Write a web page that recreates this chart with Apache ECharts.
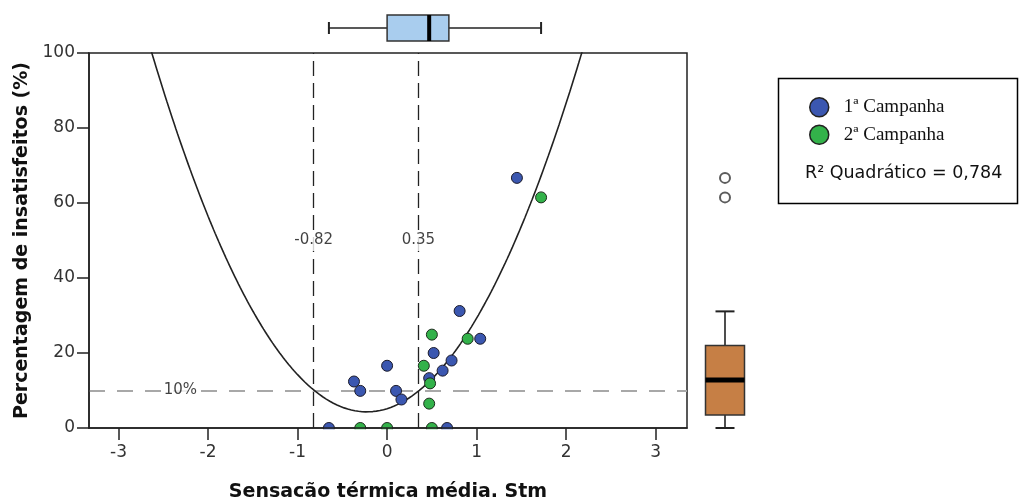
<!DOCTYPE html>
<html><head><meta charset="utf-8">
<script src="https://cdn.jsdelivr.net/npm/echarts@6/dist/echarts.min.js"></script>
<style>html,body{margin:0;padding:0;background:#fff}#c{width:1020px;height:504px}</style>
</head><body><div id="c"></div>
<script>
// ---- data ----
const seriesNames = ['1ª Campanha', '2ª Campanha'];
const campanha1 = [[1.45,66.7],[0.81,31.2],[1.04,23.8],[0.52,20.0],[0.00,16.6],[0.72,18.0],[0.62,15.3],[0.47,13.3],[-0.37,12.4],[-0.30,9.9],[0.10,9.9],[0.16,7.6],[-0.65,0],[0.67,0]];
const campanha2 = [[1.72,61.5],[0.50,24.9],[0.90,23.8],[0.41,16.6],[0.48,11.9],[0.47,6.5],[-0.30,0],[0.00,0],[0.50,0]];
const fitCoef = [5.16, 7.54, 16.6];          // quadratic fit y = c0 + c1 x + c2 x^2
const refLinesX = [-0.82, 0.35];
const refLabelsX = ['-0.82', '0.35'];
const refLineY = 10;
const refLabelY = '10%';
const xTicks = [-3, -2, -1, 0, 1, 2, 3];
const yTicks = [0, 20, 40, 60, 80, 100];
const xBox = [-0.65, 0.00, 0.47, 0.69, 1.72];   // min, Q1, median, Q3, max
const yBox = [0, 3.5, 12.8, 22.0, 31.1];
const yOutliers = [66.7, 61.5];
const r2Text = 'R² Quadrático = 0,784';
const xTitle = 'Sensacão térmica média. Stm';
const yTitle = 'Percentagem de insatisfeitos (%)';

// ---- fit curve samples ----
const curve = [];
for (let x = -2.8; x <= 2.36; x += 0.02) {
  curve.push([x, fitCoef[0] + fitCoef[1] * x + fitCoef[2] * x * x]);
}

const XMIN = -3.33, XMAX = 3.35;
const tickFont = {fontFamily: 'DejaVu Sans', fontSize: 17, color: '#333'};
const titleFont = {fontFamily: 'DejaVu Sans', fontWeight: 'bold', fontSize: 19, color: '#111'};

const chart = echarts.init(document.getElementById('c'), null, {renderer: 'canvas'});
chart.setOption({
  animation: false,
  backgroundColor: '#fff',
  grid: [
    {left: 89, top: 53, width: 598, height: 375, show: true, borderColor: '#222', borderWidth: 1.5, backgroundColor: '#fff', outerBoundsMode: 'none', containLabel: false},
    {left: 89, top: 10, width: 598, height: 36, outerBoundsMode: 'none'},
    {left: 700, top: 53, width: 50, height: 375, outerBoundsMode: 'none'}
  ],
  xAxis: [
    {gridIndex: 0, type: 'value', min: XMIN, max: XMAX, z: 20,
     axisLine: {show: true, onZero: false, lineStyle: {color: '#222', width: 1.5}},
     axisTick: {show: true, length: 12, customValues: xTicks, lineStyle: {color: '#222', width: 1.5}},
     axisLabel: {show: true, customValues: xTicks, margin: 16, ...tickFont},
     splitLine: {show: false},
     name: xTitle, nameLocation: 'middle', nameGap: 55, nameTextStyle: titleFont},
    {gridIndex: 1, type: 'value', min: XMIN, max: XMAX, show: false},
    {gridIndex: 2, type: 'value', min: 0, max: 1, show: false}
  ],
  yAxis: [
    {gridIndex: 0, type: 'value', min: 0, max: 100, interval: 20, z: 20,
     axisLine: {show: true, onZero: false, lineStyle: {color: '#222', width: 1.5}},
     axisTick: {show: true, length: 12, lineStyle: {color: '#222', width: 1.5}},
     axisLabel: {show: true, margin: 14, ...tickFont},
     splitLine: {show: false},
     name: yTitle, nameLocation: 'middle', nameGap: 55, nameTextStyle: titleFont},
    {gridIndex: 1, type: 'value', min: 0, max: 1, show: false},
    {gridIndex: 2, type: 'value', min: 0, max: 100, show: false}
  ],
  legend: {
    data: seriesNames, orient: 'vertical', left: 804, top: 92,
    itemWidth: 19, itemHeight: 19, itemGap: 7, icon: 'circle',
    itemStyle: {borderColor: '#222', borderWidth: 1.5},
    textStyle: {fontFamily: 'Liberation Serif', fontSize: 19, color: '#111', padding: [0, 0, 0, 10]},
    selectedMode: false
  },
  series: [
    {type: 'line', name: 'fit', xAxisIndex: 0, yAxisIndex: 0, data: curve, showSymbol: false,
     clip: true, z: 2, lineStyle: {color: '#222', width: 1.6}, silent: true,
     markLine: {silent: true, z: 1, symbol: 'none', animation: false, label: {show: false},
       data: [
         {xAxis: refLinesX[0], lineStyle: {color: '#222', width: 1.3, type: [15, 7]}},
         {xAxis: refLinesX[1], lineStyle: {color: '#222', width: 1.3, type: [15, 7]}},
         {yAxis: refLineY, lineStyle: {color: '#a8a8a8', width: 2, type: [16, 12]}}
       ]}},
    {type: 'scatter', name: 'labels', xAxisIndex: 0, yAxisIndex: 0, z: 3, symbolSize: 0, silent: true,
     data: [[refLinesX[0], 50, refLabelsX[0]], [refLinesX[1], 50, refLabelsX[1]], [-2.31, refLineY, refLabelY]],
     label: {show: true, position: 'inside', formatter: p => p.value[2],
       fontFamily: 'DejaVu Sans', fontSize: 15, color: '#111', backgroundColor: '#fff', padding: [3, 2]},
     labelLayout: {hideOverlap: false}},
    {type: 'scatter', name: seriesNames[0], xAxisIndex: 0, yAxisIndex: 0, z: 4, data: campanha1,
     symbolSize: 11, itemStyle: {color: '#3B57B0', borderColor: '#1c1c2c', borderWidth: 1, opacity: 1}},
    {type: 'scatter', name: seriesNames[1], xAxisIndex: 0, yAxisIndex: 0, z: 4, data: campanha2,
     symbolSize: 11, itemStyle: {color: '#33B24A', borderColor: '#1c2c1c', borderWidth: 1, opacity: 1}},
    {type: 'custom', name: 'xbox', xAxisIndex: 1, yAxisIndex: 1, data: [xBox], silent: true,
     renderItem: (params, api) => {
       const v = [0,1,2,3,4].map(i => api.value(i));
       const px = v.map(val => api.coord([val, 0.5])[0]);
       const cy = api.coord([0, 0.5])[1];
       const hb = 13, hc = 6;
       const ls = {stroke: '#222', lineWidth: 1.6};
       return {type: 'group', children: [
         {type: 'line', shape: {x1: px[0], y1: cy, x2: px[1], y2: cy}, style: ls},
         {type: 'line', shape: {x1: px[3], y1: cy, x2: px[4], y2: cy}, style: ls},
         {type: 'line', shape: {x1: px[0], y1: cy - hc, x2: px[0], y2: cy + hc}, style: {stroke: '#222', lineWidth: 2}},
         {type: 'line', shape: {x1: px[4], y1: cy - hc, x2: px[4], y2: cy + hc}, style: {stroke: '#222', lineWidth: 2}},
         {type: 'rect', shape: {x: px[1], y: cy - hb, width: px[3] - px[1], height: 2 * hb}, style: {fill: '#A9CDEE', stroke: '#333', lineWidth: 1.5}},
         {type: 'line', shape: {x1: px[2], y1: cy - hb, x2: px[2], y2: cy + hb}, style: {stroke: '#000', lineWidth: 4}}
       ]};
     }},
    {type: 'custom', name: 'ybox', xAxisIndex: 2, yAxisIndex: 2, data: [yBox], silent: true,
     renderItem: (params, api) => {
       const v = [0,1,2,3,4].map(i => api.value(i));
       const py = v.map(val => api.coord([0.5, val])[1]);
       const cx = api.coord([0.5, 0])[0];
       const hb = 19.5, hc = 9.5;
       const ls = {stroke: '#222', lineWidth: 1.6};
       return {type: 'group', children: [
         {type: 'line', shape: {x1: cx, y1: py[0], x2: cx, y2: py[1]}, style: ls},
         {type: 'line', shape: {x1: cx, y1: py[3], x2: cx, y2: py[4]}, style: ls},
         {type: 'line', shape: {x1: cx - hc, y1: py[0], x2: cx + hc, y2: py[0]}, style: {stroke: '#222', lineWidth: 2}},
         {type: 'line', shape: {x1: cx - hc, y1: py[4], x2: cx + hc, y2: py[4]}, style: {stroke: '#222', lineWidth: 2}},
         {type: 'rect', shape: {x: cx - hb, y: py[3], width: 2 * hb, height: py[1] - py[3]}, style: {fill: '#C67F45', stroke: '#333', lineWidth: 1.5}},
         {type: 'line', shape: {x1: cx - hb, y1: py[2], x2: cx + hb, y2: py[2]}, style: {stroke: '#000', lineWidth: 5}}
       ]};
     }},
    {type: 'scatter', name: 'outliers', xAxisIndex: 2, yAxisIndex: 2, silent: true,
     data: yOutliers.map(y => [0.5, y]), symbol: 'emptyCircle', symbolSize: 10,
     itemStyle: {color: '#333', borderColor: '#333', borderWidth: 1.3}}
  ],
  graphic: [
    {type: 'rect', z: 10, silent: true, shape: {x: 295, y: 429.2, width: 200, height: 9}, style: {fill: '#fff'}},
    {type: 'rect', silent: true, shape: {x: 778.5, y: 78.5, width: 239, height: 125}, style: {fill: 'none', stroke: '#000', lineWidth: 1.5}},
    {type: 'text', silent: true, x: 805, y: 173, style: {text: r2Text, fontFamily: 'DejaVu Sans', fontSize: 17.5, fill: '#111', verticalAlign: 'middle'}}
  ]
});
</script>
</body></html>
